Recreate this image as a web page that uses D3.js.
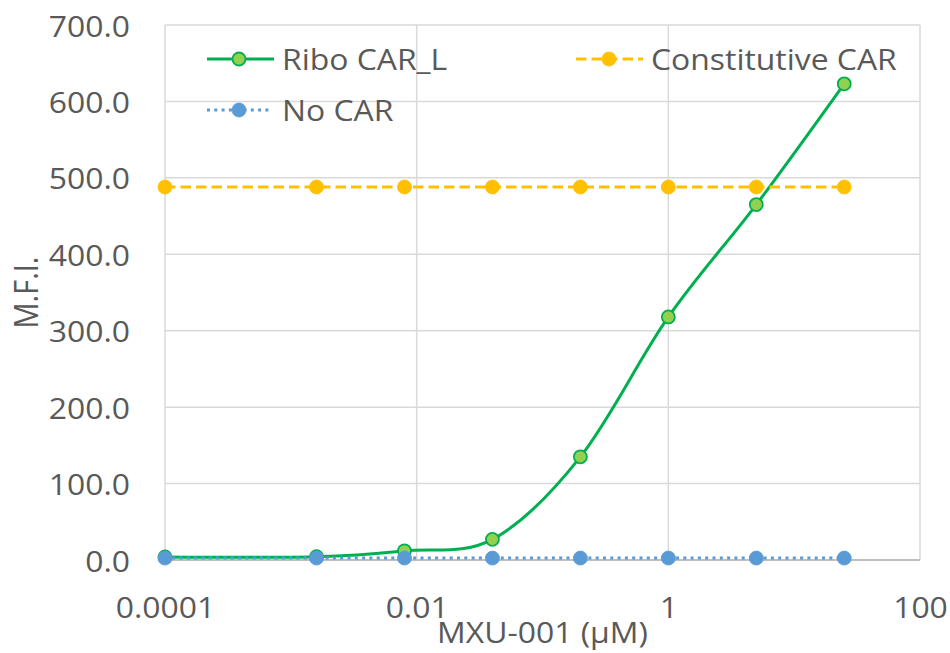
<!DOCTYPE html>
<html>
<head>
<meta charset="utf-8">
<script src="https://cdn.jsdelivr.net/npm/d3@7"></script>
<style>
  html, body { margin: 0; padding: 0; background: #ffffff; }
  svg { display: block; }
  text { font-family: "Open Sans", "DejaVu Sans", sans-serif; fill: #595959; }
</style>
</head>
<body>
<svg id="chart" width="950" height="653"></svg>
<script>
// MXU-001 dose series (µM); the lowest point stands for the untreated sample
const concentrations = [0.0001, 0.0016, 0.008, 0.04, 0.2, 1, 5, 25];
const riboCarL = [4, 4.3, 12, 27, 135, 318, 465, 623];
const constitutiveCar = [488, 488, 488, 488, 488, 488, 488, 488];
const noCar = [2.5, 2.5, 2.5, 2.5, 2.5, 2.5, 2.5, 2.5];

const yTickValues = [0, 100, 200, 300, 400, 500, 600, 700];
const xTickValues = [0.0001, 0.01, 1, 100];
const xTickLabels = ["0.0001", "0.01", "1", "100"];

const seriesNames = ["Ribo CAR_L", "Constitutive CAR", "No CAR"];
const xTitle = "MXU-001 (µM)";
const yTitle = "M.F.I.";

const svg = d3.select("#chart");
const W = 950, H = 653;
const plot = { left: 165, right: 920, top: 25, bottom: 560 };
const FONT = 29, STRETCH = 1.1;

const x = d3.scaleLog().domain([0.0001, 100]).range([plot.left, plot.right]);
const y = d3.scaleLinear().domain([0, 700]).range([plot.bottom, plot.top]);

svg.append("rect").attr("width", W).attr("height", H).attr("fill", "#ffffff");

// gridlines
const grid = svg.append("g");
grid.selectAll("line.h").data(yTickValues).join("line")
  .attr("x1", plot.left).attr("x2", plot.right)
  .attr("y1", d => y(d)).attr("y2", d => y(d))
  .attr("stroke", "#d9d9d9").attr("stroke-width", 1.5);
grid.selectAll("line.v").data(xTickValues).join("line")
  .attr("y1", plot.top).attr("y2", plot.bottom)
  .attr("x1", d => x(d)).attr("x2", d => x(d))
  .attr("stroke", "#d9d9d9").attr("stroke-width", 1.5);
// horizontal axis line
svg.append("line")
  .attr("x1", plot.left).attr("x2", plot.right)
  .attr("y1", y(0)).attr("y2", y(0))
  .attr("stroke", "#bfbfbf").attr("stroke-width", 2);

// axes (labels only)
const yAxis = d3.axisLeft(y).tickValues(yTickValues).tickFormat(d3.format(".1f")).tickSize(0);
const gy = svg.append("g").attr("transform", `translate(${plot.left},0)`).call(yAxis);
gy.select(".domain").remove();
gy.selectAll("text")
  .attr("x", null).attr("dy", null)
  .attr("transform", `translate(-35,11) scale(${STRETCH},1)`)
  .style("font-size", FONT + "px").style("font-family", null).attr("fill", null)
  .attr("text-anchor", "end");

const xAxis = d3.axisBottom(x).tickValues(xTickValues)
  .tickFormat((d, i) => xTickLabels[i]).tickSize(0);
const gx = svg.append("g").attr("transform", `translate(0,${plot.bottom})`).call(xAxis);
gx.select(".domain").remove();
gx.selectAll("text")
  .attr("y", null).attr("dy", null)
  .attr("transform", `translate(0,58) scale(${STRETCH},1)`)
  .style("font-size", FONT + "px").style("font-family", null).attr("fill", null)
  .attr("text-anchor", "middle");

// axis titles
svg.append("text")
  .attr("transform", `translate(${(plot.left + plot.right) / 2},643) scale(${STRETCH},1)`)
  .attr("text-anchor", "middle").style("font-size", FONT + "px").text(xTitle);
svg.append("text")
  .attr("transform", `translate(38,${(plot.top + plot.bottom) / 2}) scale(${STRETCH},1) rotate(-90)`)
  .attr("text-anchor", "middle").style("font-size", FONT + "px").text(yTitle);

// series
const styles = [
  { stroke: "#00b050", width: 3, dash: null, fill: "#92d050", mStroke: "#00b050", r: 6.5, smooth: true },
  { stroke: "#ffc000", width: 3, dash: "10.5,5", fill: "#ffc000", mStroke: "#ffc000", r: 7, smooth: false },
  { stroke: "#5b9bd5", width: 3, dash: "3,4.3", fill: "#5b9bd5", mStroke: "#5b9bd5", r: 7, smooth: false }
];
const seriesValues = [riboCarL, constitutiveCar, noCar];

seriesValues.forEach((vals, i) => {
  const s = styles[i];
  const pts = concentrations.map((c, j) => [c, vals[j]]);
  const line = d3.line().x(d => x(d[0])).y(d => y(d[1]))
    .curve(s.smooth ? d3.curveCardinal.tension(0) : d3.curveLinear);
  const g = svg.append("g");
  g.append("path").datum(pts).attr("d", line)
    .attr("fill", "none").attr("stroke", s.stroke).attr("stroke-width", s.width)
    .attr("stroke-dasharray", s.dash);
  g.selectAll("circle").data(pts).join("circle")
    .attr("cx", d => x(d[0])).attr("cy", d => y(d[1])).attr("r", s.r)
    .attr("fill", s.fill).attr("stroke", s.mStroke).attr("stroke-width", s.smooth ? 1.8 : 0.8);
});

// legend
const legendItems = [
  { x0: 207, x1: 274, cx: 239, y: 59, tx: 282 },
  { x0: 576, x1: 643, cx: 609, y: 59, tx: 651 },
  { x0: 207, x1: 270, cx: 239, y: 110, tx: 282 }
];
legendItems.forEach((it, i) => {
  const s = styles[i];
  const g = svg.append("g");
  g.append("line").attr("x1", it.x0).attr("x2", it.x1).attr("y1", it.y).attr("y2", it.y)
    .attr("stroke", s.stroke).attr("stroke-width", s.width).attr("stroke-dasharray", s.dash);
  g.append("circle").attr("cx", it.cx).attr("cy", it.y).attr("r", s.r)
    .attr("fill", s.fill).attr("stroke", s.mStroke).attr("stroke-width", s.smooth ? 1.8 : 0.8);
  g.append("text")
    .attr("transform", `translate(${it.tx},${it.y + 11}) scale(${STRETCH},1)`)
    .style("font-size", FONT + "px").text(seriesNames[i]);
});
</script>
</body>
</html>
